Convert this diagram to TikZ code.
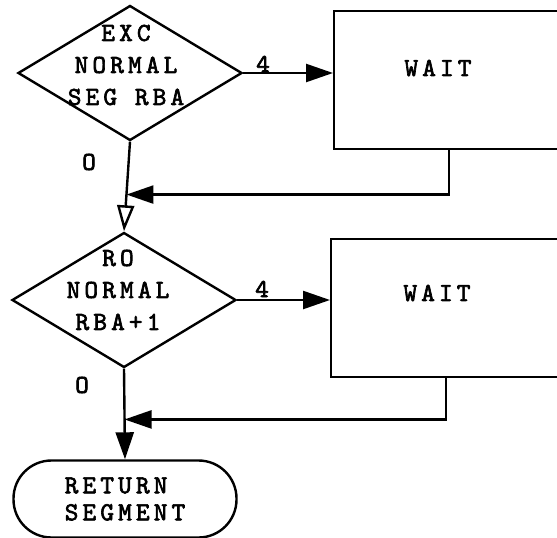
\documentclass[tikz,border=0pt]{standalone}
\usepackage{fontspec}
\newfontfamily\flowfont[Extension=.otf,LetterSpace=16,FakeBold=2.5]{lmmono10-regular}
\usetikzlibrary{shapes.geometric,arrows.meta,calc}

\begin{document}
\begin{tikzpicture}[x=1pt,y=-1pt,line width=2.4pt,
    decision/.style={draw,diamond,minimum width=224pt,minimum height=135pt,inner sep=0pt},
    waitbox/.style={draw,rectangle,anchor=north west,minimum width=280pt,minimum height=138pt},
    txt/.style={font=\flowfont\fontsize{26}{32}\selectfont,align=center,inner sep=0pt},
    term/.style={draw,rectangle,rounded corners=38pt,minimum width=223pt,minimum height=77pt,
        font=\flowfont\fontsize{26}{27}\selectfont,align=left},
    fill tip/.style={-{Triangle[length=27pt,width=18pt]}},
    open tip/.style={-{Triangle[open,length=26pt,width=17pt]}}]
        \clip (0,0) rectangle (557,538);

        % Primera pregunta
        \node[decision] (d1) at (130,73) {};
        \node[txt] (t1) at (126,65) {EXC\\NORMAL\\SEG RBA};
        \node[waitbox] (b1) at (333,10) {};
        \node[txt] (w1) at (438,68) {WAIT};
        \node[txt] (n1) at (263,64) {4};
        \node[txt] (o1) at (89,162) {O};

        % Segunda pregunta
        \node[decision] (d2) at (124,300) {};
        \node[txt] (t2) at (118,290) {RO\\NORMAL\\RBA+1};
        \node[waitbox] (b2) at (330,238) {};
        \node[txt] (w2) at (437,293) {WAIT};
        \node[txt] (n2) at (262,289) {4};
        \node[txt] (o2) at (82,385) {O};

        \node[term] (rs) at (125,499) {RETURN\\SEGMENT};

        \coordinate (f1) at ($(b1.south west)!0.41!(b1.south east)$);
        \coordinate (j1) at ($(d1.south)!0.59!(d2.north)$);
        \coordinate (f2) at ($(b2.south west)!0.41!(b2.south east)$);
        \coordinate (j2) at ($(d2.south)!0.56!(rs.north)$);

        \draw[fill tip] (d1.east) -- (d1.east -| b1.west);
        \draw[open tip] (d1.south) -- (d2.north);
        \draw[fill tip] (f1) |- (j1);

        \draw[fill tip] (d2.east) -- (d2.east -| b2.west);
        \draw[fill tip] (d2.south) -- (rs.north);
        \draw[fill tip] (f2) |- (j2);
\end{tikzpicture}
\end{document}
